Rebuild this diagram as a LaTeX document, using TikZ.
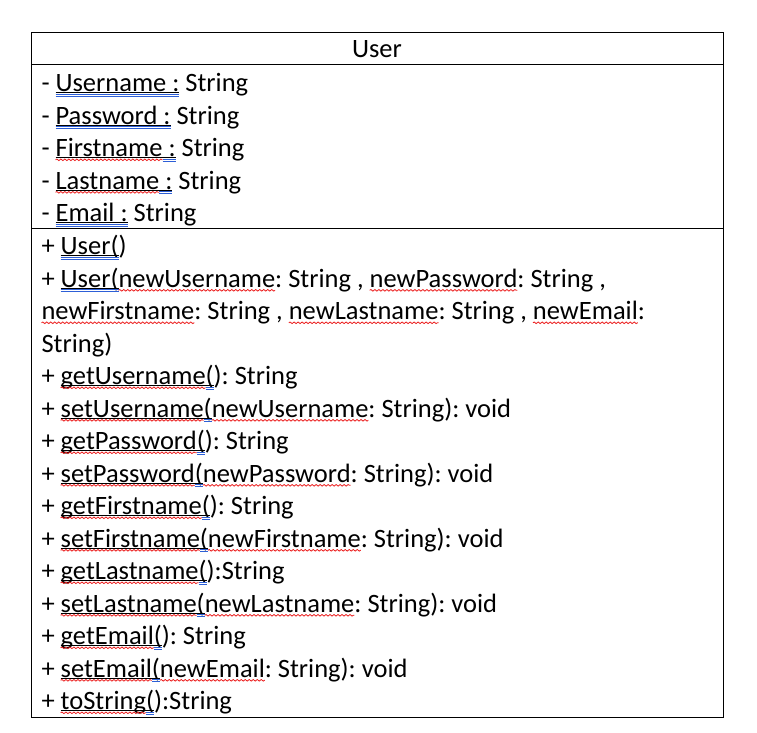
\documentclass[tikz,border=0pt]{standalone}
\usepackage{fontspec}
\setmainfont{Carlito}
\usetikzlibrary{decorations.pathmorphing}
\definecolor{wavred}{RGB}{235,30,30}
\definecolor{gblue}{RGB}{45,95,215}
\tikzset{
  txt/.style={font=\fontsize{26.5}{32}\selectfont, inner sep=0pt, outer sep=0pt, anchor=base west},
  frame/.style={draw=black, line width=1pt},
  ulin/.style={draw=black, line width=1.1pt},
  blu/.style={draw=gblue, line width=0.9pt},
  wav/.style={draw=wavred, line width=0.8pt, decorate, decoration={snake, amplitude=0.8pt, segment length=4pt}}
}
\newcommand\tsp{~\kern0pt}
\newcommand\sg[3]{\node[txt] (#1) at (#2.base east) {#3};}
\newcommand\ulx[1]{\draw[ulin] ([yshift=-1.4pt]#1.base west) -- ([yshift=-1.4pt]#1.base east);}
\newcommand\wv[1]{\draw[wav] ([yshift=-3.3pt]#1.base west) -- ([yshift=-3.3pt]#1.base east);}
\newcommand\db[1]{\draw[blu] ([yshift=-2.9pt]#1.base west) -- ([yshift=-2.9pt]#1.base east);
  \draw[blu] ([yshift=-4.9pt]#1.base west) -- ([yshift=-4.9pt]#1.base east);}
\begin{document}
\begin{tikzpicture}[x=1pt,y=-1pt]
\useasboundingbox (0,0) rectangle (757,732);
% frame
\draw[frame] (31,32) rectangle (723,717);
\coordinate (h1l) at (31,64.5); \coordinate (h1r) at (723,64.5);
\coordinate (h2l) at (31,228); \coordinate (h2r) at (723,228);
\draw[frame] (h1l) -- (h1r);
\draw[frame] (h2l) -- (h2r);
% title
\node[txt, anchor=base] (title) at (377,57) {User};
% attributes
\node[txt] (a1) at (41.5,91.5) {-\tsp};
\sg{a1n}{a1}{Username~:}\sg{a1t}{a1n}{~String}
\ulx{a1n}\db{a1n}
\node[txt] (a2) at (41.5,124) {-\tsp};
\sg{a2n}{a2}{Password~:}\sg{a2t}{a2n}{~String}
\ulx{a2n}\db{a2n}
\node[txt] (a3) at (41.5,156.5) {-\tsp};
\sg{a3n}{a3}{Firstname}\sg{a3c}{a3n}{~:}\sg{a3t}{a3c}{~String}
\ulx{a3n}\ulx{a3c}\wv{a3n}\db{a3c}
\node[txt] (a4) at (41.5,189) {-\tsp};
\sg{a4n}{a4}{Lastname}\sg{a4c}{a4n}{~:}\sg{a4t}{a4c}{~String}
\ulx{a4n}\ulx{a4c}\wv{a4n}\db{a4c}
\node[txt] (a5) at (41.5,221.5) {-\tsp};
\sg{a5n}{a5}{Email~:}\sg{a5t}{a5n}{~String}
\ulx{a5n}\db{a5n}
% methods
\node[txt] (m1) at (41.5,254.5) {+\tsp};
\sg{m1n}{m1}{User(}\sg{m1t}{m1n}{)}
\ulx{m1n}\db{m1n}
\node[txt] (m2) at (41.5,287) {+\tsp};
\sg{m2n}{m2}{User(}\sg{m2p}{m2n}{newUsername}\sg{m2q}{m2p}{:~String~,\tsp}\sg{m2r}{m2q}{newPassword}\sg{m2t}{m2r}{:~String~,}
\ulx{m2n}\db{m2n}\wv{m2p}\wv{m2r}
\node[txt] (m3) at (41.5,319.5) {newFirstname};
\sg{m3q}{m3}{:~String~,\tsp}\sg{m3r}{m3q}{newLastname}\sg{m3s}{m3r}{:~String~,\tsp}\sg{m3u}{m3s}{newEmail}\sg{m3t}{m3u}{:}
\wv{m3}\wv{m3r}\wv{m3u}
\node[txt] (m4) at (41.5,352) {String)};
% getters / setters
\node[txt] (m5) at (41.5,384.5) {+\tsp};
\sg{m5n}{m5}{getUsername}\sg{m5o}{m5n}{(}\sg{m5t}{m5o}{):~String}
\ulx{m5n}\ulx{m5o}\wv{m5n}\db{m5o}
\node[txt] (m6) at (41.5,417) {+\tsp};
\sg{m6n}{m6}{setUsername}\sg{m6o}{m6n}{(}\sg{m6p}{m6o}{newUsername}\sg{m6t}{m6p}{:~String):~void}
\ulx{m6n}\ulx{m6o}\wv{m6n}\db{m6o}\wv{m6p}
\node[txt] (m7) at (41.5,449.5) {+\tsp};
\sg{m7n}{m7}{getPassword}\sg{m7o}{m7n}{(}\sg{m7t}{m7o}{):~String}
\ulx{m7n}\ulx{m7o}\wv{m7n}\db{m7o}
\node[txt] (m8) at (41.5,482) {+\tsp};
\sg{m8n}{m8}{setPassword}\sg{m8o}{m8n}{(}\sg{m8p}{m8o}{newPassword}\sg{m8t}{m8p}{:~String):~void}
\ulx{m8n}\ulx{m8o}\wv{m8n}\db{m8o}\wv{m8p}
\node[txt] (m9) at (41.5,514.5) {+\tsp};
\sg{m9n}{m9}{getFirstname}\sg{m9o}{m9n}{(}\sg{m9t}{m9o}{):~String}
\ulx{m9n}\ulx{m9o}\wv{m9n}\db{m9o}
\node[txt] (m10) at (41.5,547) {+\tsp};
\sg{m10n}{m10}{setFirstname}\sg{m10o}{m10n}{(}\sg{m10p}{m10o}{newFirstname}\sg{m10t}{m10p}{:~String):~void}
\ulx{m10n}\ulx{m10o}\wv{m10n}\db{m10o}\wv{m10p}
\node[txt] (m11) at (41.5,579.5) {+\tsp};
\sg{m11n}{m11}{getLastname}\sg{m11o}{m11n}{(}\sg{m11t}{m11o}{):String}
\ulx{m11n}\ulx{m11o}\wv{m11n}\db{m11o}
\node[txt] (m12) at (41.5,612) {+\tsp};
\sg{m12n}{m12}{setLastname}\sg{m12o}{m12n}{(}\sg{m12p}{m12o}{newLastname}\sg{m12t}{m12p}{:~String):~void}
\ulx{m12n}\ulx{m12o}\wv{m12n}\db{m12o}\wv{m12p}
\node[txt] (m13) at (41.5,644.5) {+\tsp};
\sg{m13n}{m13}{getEmail}\sg{m13o}{m13n}{(}\sg{m13t}{m13o}{):~String}
\ulx{m13n}\ulx{m13o}\wv{m13n}\db{m13o}
\node[txt] (m14) at (41.5,677) {+\tsp};
\sg{m14n}{m14}{setEmail}\sg{m14o}{m14n}{(}\sg{m14p}{m14o}{newEmail}\sg{m14t}{m14p}{:~String):~void}
\ulx{m14n}\ulx{m14o}\wv{m14n}\db{m14o}\wv{m14p}
\node[txt] (m15) at (41.5,709.5) {+\tsp};
\sg{m15n}{m15}{toString}\sg{m15o}{m15n}{(}\sg{m15t}{m15o}{):String}
\ulx{m15n}\ulx{m15o}\wv{m15n}\db{m15o}
\end{tikzpicture}
\end{document}
